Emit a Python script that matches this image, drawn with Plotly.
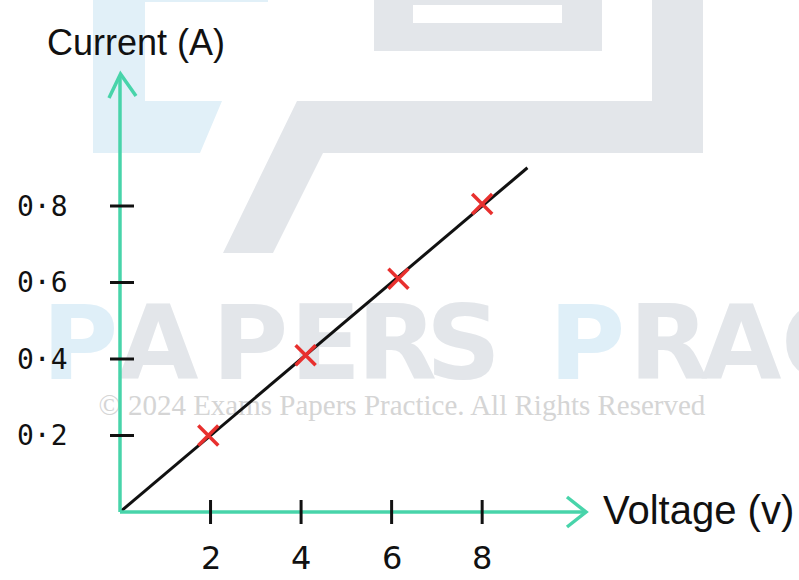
import plotly.graph_objects as go

# ---------------- data ----------------
voltage = [1.95, 4.1, 6.15, 8.0]
current = [0.2, 0.41, 0.61, 0.805]
fit_voltage = [0, 9.0]
fit_current = [0, 0.9]
x_ticks = [2, 4, 6, 8]
x_tick_labels = ["2", "4", "6", "8"]
y_ticks = [0.2, 0.4, 0.6, 0.8]
y_tick_labels = ["0·2", "0·4", "0·6", "0·8"]
x_title = "Voltage (v)"
y_title = "Current (A)"
wm_letters = ["P", "A", "P", "E", "R", "S", "P", "R", "A", "C"]
wm_colors = ["#dfeff8", "#e3e6ea", "#e3e6ea", "#e3e6ea", "#e3e6ea", "#e3e6ea",
             "#dfeff8", "#e3e6ea", "#e3e6ea", "#e3e6ea"]
copyright_text = "© 2024 Exams Papers Practice. All Rights Reserved"

# ---------------- layout helpers (pixel -> axis units) ----------------
W, H = 799, 580
X0, Y0 = 120, 512      # pixel position of origin
SX, SY = 45.27, 382.5  # pixels per unit


def dx(X):
    return (X - X0) / SX


def dy(Y):
    return (Y0 - Y) / SY


TEAL = "#48d4aa"
INK = "#111111"
RED = "#e8302e"

fig = go.Figure()

# watermark letters (behind the plotted line)
wm_left = [42, 118, 212, 290, 357, 426, 549, 629, 701, 781]
fig.add_trace(go.Scatter(
    x=[dx(v) for v in wm_left], y=[dy(353)] * len(wm_left),
    mode="text", text=wm_letters, textposition="middle right",
    textfont=dict(family="DejaVu Sans", size=104, weight=700, color=wm_colors),
    hoverinfo="skip", showlegend=False))

fig.add_trace(go.Scatter(
    x=[dx(402)], y=[dy(408)], mode="text", text=[copyright_text],
    textposition="middle center",
    textfont=dict(family="Liberation Serif", size=29, color="#d5d5d5"),
    hoverinfo="skip", showlegend=False))

# best-fit line
fig.add_trace(go.Scatter(
    x=fit_voltage, y=fit_current, mode="lines",
    line=dict(color=INK, width=3), hoverinfo="skip", showlegend=False))

# data points
fig.add_trace(go.Scatter(
    x=voltage, y=current, mode="markers",
    marker=dict(symbol="x-thin", size=20, line=dict(color=RED, width=3.5)),
    showlegend=False))

shapes = []


def poly(pts):
    return "M " + " L ".join(f"{dx(a):.4f},{dy(b):.4f}" for a, b in pts) + " Z"


# logo watermark shapes
shapes.append(dict(type="path", layer="below", line=dict(width=0), fillcolor="#e1f0f8",
                   path=poly([(93, 0), (268, 0), (268, 2), (145, 2), (145, 101), (222, 101),
                              (200, 153), (93, 153)])))
shapes.append(dict(type="path", layer="below", line=dict(width=0), fillcolor="#e3e6ea",
                   path=poly([(374, 0), (602, 0), (602, 51), (374, 51)])))
shapes.append(dict(type="path", layer="below", line=dict(width=0), fillcolor="#ffffff",
                   path=poly([(413, 5), (562, 5), (562, 23), (413, 23)])))
shapes.append(dict(type="path", layer="below", line=dict(width=0), fillcolor="#e3e6ea",
                   path=poly([(297, 101), (652, 101), (652, 0), (703, 0), (703, 153),
                              (323, 153), (273, 253), (223, 253)])))

# axes
shapes.append(dict(type="line", layer="above", x0=0, x1=0, y0=0, y1=dy(75),
                   line=dict(color=TEAL, width=3.5)))
shapes.append(dict(type="line", layer="above", x0=0, x1=dx(584), y0=0, y1=0,
                   line=dict(color=TEAL, width=3.5)))
shapes.append(dict(type="path", layer="above",
                   path=f"M {dx(109)},{dy(98)} L {dx(120.5)},{dy(74)} L {dx(136)},{dy(96)}",
                   line=dict(color=TEAL, width=3.5)))
shapes.append(dict(type="path", layer="above",
                   path=f"M {dx(567)},{dy(497)} L {dx(586)},{dy(512)} L {dx(567)},{dy(527)}",
                   line=dict(color=TEAL, width=3.5)))

# tick marks
for v in x_ticks:
    shapes.append(dict(type="line", layer="above", x0=v, x1=v, y0=dy(500), y1=dy(524),
                       line=dict(color=INK, width=3)))
for v in y_ticks:
    shapes.append(dict(type="line", layer="above", x0=dx(110), x1=dx(134), y0=v, y1=v,
                       line=dict(color=INK, width=3)))

annotations = []
for v, t in zip(x_ticks, x_tick_labels):
    annotations.append(dict(x=v, y=0, text=t, showarrow=False, xanchor="center",
                            yanchor="middle", yshift=-46,
                            font=dict(family="DejaVu Sans", size=32, color=INK)))
for v, t in zip(y_ticks, y_tick_labels):
    annotations.append(dict(x=0, y=v, text=t, showarrow=False, xanchor="right",
                            yanchor="middle", xshift=-50,
                            font=dict(family="DejaVu Sans Mono", size=28, color=INK)))

annotations.append(dict(x=dx(45), y=dy(42), text=y_title, showarrow=False,
                        xanchor="left", yanchor="middle",
                        font=dict(family="Liberation Sans", size=36, color=INK)))
annotations.append(dict(x=dx(601), y=dy(510), text=x_title, showarrow=False,
                        xanchor="left", yanchor="middle",
                        font=dict(family="Liberation Sans", size=40, color=INK)))

fig.update_layout(
    width=W, height=H, autosize=False,
    margin=dict(l=0, r=0, t=0, b=0, pad=0),
    paper_bgcolor="white", plot_bgcolor="white",
    xaxis=dict(range=[dx(0), dx(W)], visible=False, fixedrange=True),
    yaxis=dict(range=[dy(H), dy(0)], visible=False, fixedrange=True),
    shapes=shapes, annotations=annotations, showlegend=False,
)

fig.write_html("out.html", config={"displayModeBar": False},
               post_script="document.body.style.margin='0';document.body.style.overflow='hidden';")
